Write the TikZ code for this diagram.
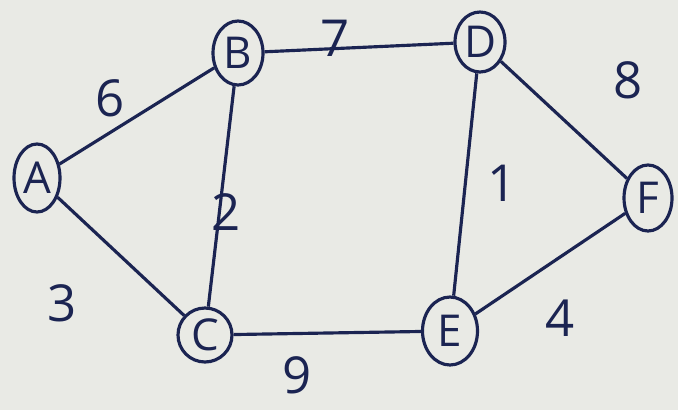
\documentclass[tikz,border=0pt]{standalone}
\usepackage{fontspec}
\setmainfont{Open Sans}
\usepackage{tikz}
\usetikzlibrary{shapes.geometric}
\definecolor{ink}{HTML}{1B2452}
\definecolor{paper}{HTML}{E9EAE5}

\begin{document}
\begin{tikzpicture}[x=0.02cm,y=-0.02cm, line width=1.8pt, draw=ink,
	every node/.style={text=ink},
	vertex/.style={ellipse, draw=ink, line width=1.8pt, inner sep=0pt, font=\fontsize{25}{27}\selectfont},
	wt/.style={font=\fontsize{29}{31}\selectfont}]
    \fill[paper] (0,0) rectangle (678,410);
    \node[vertex, minimum width=46*0.02cm, minimum height=68*0.02cm] (A) at (37,178) {A};
    \node[vertex, minimum width=50*0.02cm, minimum height=64*0.02cm] (B) at (238,53) {B};
    \node[vertex, minimum width=50*0.02cm, minimum height=60*0.02cm] (D) at (480,42) {D};
    \node[vertex, minimum width=54*0.02cm, minimum height=54*0.02cm] (C) at (205,335) {C};
    \node[vertex, minimum width=55*0.02cm, minimum height=68*0.02cm] (E) at (450,331) {E};
    \node[vertex, minimum width=48*0.02cm, minimum height=66*0.02cm] (F) at (648,198) {F};
    % edges
    \draw[ink] (A) -- (B);
    \draw[ink] (B) -- (D);
    \draw[ink] (D) -- (F);
    \draw[ink] (B) -- (C);
    \draw[ink] (D) -- (E);
    \draw[ink] (A) -- (C);
    \draw[ink] (C) -- (E);
    \draw[ink] (E) -- (F);
    % weights
    \node[wt] (wAB) at (110,98) {6};
    \node[wt] (wBD) at (335,38) {7};
    \node[wt] (wDF) at (628,80) {8};
    \node[wt] (wBC) at (226,212) {2};
    \node[wt] (wDE) at (502,183) {1};
    \node[wt] (wAC) at (62,303) {3};
    \node[wt] (wCE) at (297,375) {9};
    \node[wt] (wEF) at (560,318) {4};
\end{tikzpicture}
\end{document}
